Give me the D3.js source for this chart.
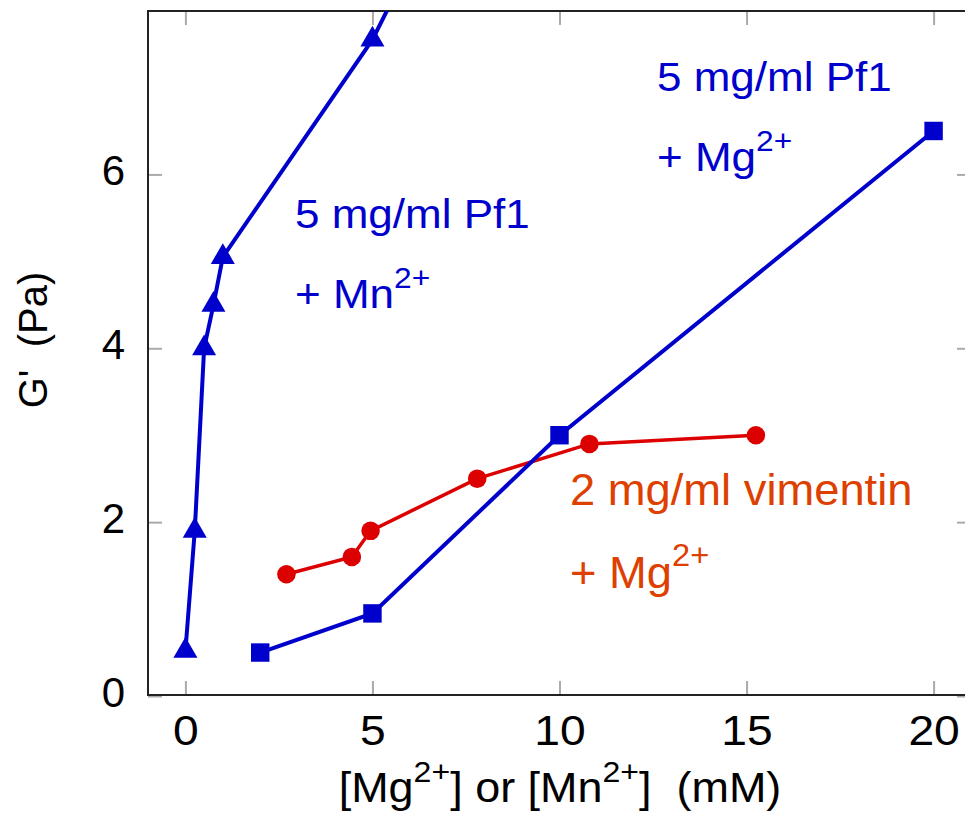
<!DOCTYPE html>
<html>
<head>
<meta charset="utf-8">
<script src="https://cdn.jsdelivr.net/npm/d3@7"></script>
<style>
  body { margin: 0; background: #fff; }
  svg { display: block; font-family: "Liberation Sans", Arial, sans-serif; }
  text { white-space: pre; }
</style>
</head>
<body>
<svg id="chart" width="965" height="821"></svg>
<script>
// data
var mnConc = [0, 0.25, 0.5, 0.75, 1, 5, 7.5];
var mnPf1 = [0.52, 1.9, 4.0, 4.5, 5.05, 7.55, 9.7];

var mgConc = [2, 5, 10, 20];
var mgPf1 = [0.5, 0.95, 3.0, 6.5];

var vimConc = [2.7, 4.45, 4.95, 7.8, 10.8, 15.25];
var vimG = [1.4, 1.6, 1.9, 2.5, 2.9, 3.0];

var xTicks = [0, 5, 10, 15, 20];
var yTicks = [0, 2, 4, 6];

var blue = "#0000cc", red = "#dd0000", orange = "#dd4000";

var svg = d3.select("#chart");
var plotL = 148, plotR = 971, plotT = 11, plotB = 695;

var x = d3.scaleLinear().domain([-1, 21]).range([plotL, plotR]);
var y = d3.scaleLinear().domain([0, 7.88]).range([plotB + 1, plotT]);

svg.append("clipPath").attr("id", "plotclip")
    .append("rect")
    .attr("x", plotL).attr("y", plotT)
    .attr("width", plotR - plotL).attr("height", plotB - plotT);

// ticks on all four sides, pointing in
function styleAxis(g) {
    g.select(".domain").remove();
    g.selectAll(".tick line").attr("stroke", "#aaa").attr("stroke-width", 2);
    g.selectAll(".tick text").attr("fill", "#000").attr("font-size", 42);
}

var xAxisG = svg.append("g")
    .attr("transform", "translate(0," + plotB + ")")
    .call(d3.axisBottom(x).tickValues(xTicks).tickSize(-14).tickPadding(20))
    .call(styleAxis);
// glyphs in the reference are a bit wider than Liberation Sans
xAxisG.selectAll(".tick text")
    .attr("transform", "scale(1.1,1)")
    .attr("x", 0);

svg.append("g")
    .attr("transform", "translate(0," + plotT + ")")
    .call(d3.axisTop(x).tickValues(xTicks).tickSize(-14).tickFormat(""))
    .call(styleAxis);
svg.append("g")
    .attr("transform", "translate(" + plotL + ",0)")
    .call(d3.axisLeft(y).tickValues(yTicks).tickSize(-14).tickPadding(23))
    .call(styleAxis)
    .selectAll(".tick text").attr("dy", "0.25em");
svg.append("g")
    .attr("transform", "translate(" + plotR + ",0)")
    .call(d3.axisRight(y).tickValues(yTicks).tickSize(-14).tickFormat(""))
    .call(styleAxis);

svg.append("rect")
    .attr("x", plotL).attr("y", plotT)
    .attr("width", plotR - plotL).attr("height", plotB - plotT)
    .attr("fill", "none").attr("stroke", "#222").attr("stroke-width", 2);

function drawSeries(xs, ys, color, width, shape, size) {
    var pts = xs.map(function (d, i) { return [d, ys[i]]; });
    var g = svg.append("g").attr("clip-path", "url(#plotclip)");
    var line = d3.line()
        .x(function (d) { return x(d[0]); })
        .y(function (d) { return y(d[1]); });
    g.append("path")
        .datum(pts)
        .attr("d", line)
        .attr("fill", "none")
        .attr("stroke", color)
        .attr("stroke-width", width);
    g.selectAll("path.mark")
        .data(pts)
        .enter().append("path")
        .attr("class", "mark")
        .attr("d", d3.symbol().type(shape).size(size))
        .attr("transform", function (d) { return "translate(" + x(d[0]) + "," + y(d[1]) + ")"; })
        .attr("fill", color);
}

drawSeries(vimConc, vimG, red, 3.5, d3.symbolCircle, 270);
drawSeries(mgConc, mgPf1, blue, 4, d3.symbolSquare, 340);
drawSeries(mnConc, mnPf1, blue, 4, d3.symbolTriangle, 250);

// annotations
function label(px, py, main, sup, color, size, stretch) {
    var t = svg.append("text")
        .attr("transform", "translate(" + px + "," + py + ") scale(" + stretch + ",1)")
        .attr("fill", color)
        .attr("font-size", size)
        .text(main);
    if (sup) {
        t.append("tspan").attr("font-size", size * 0.72).attr("dy", -size * 0.5).text(sup);
    }
}

label(295, 228, "5 mg/ml Pf1", null, blue, 40, 1.1);
label(295, 308, "+ Mn", "2+", blue, 40, 1.1);
label(657, 91, "5 mg/ml Pf1", null, blue, 40, 1.1);
label(657, 171, "+ Mg", "2+", blue, 40, 1.1);
label(570, 505, "2 mg/ml vimentin", null, orange, 44, 1.03);
label(570, 588, "+ Mg", "2+", orange, 44, 1.03);

// axis titles
var xl = svg.append("text")
    .attr("transform", "translate(560,802) scale(1.07,1)")
    .attr("text-anchor", "middle")
    .attr("font-size", 42)
    .attr("fill", "#000");
xl.append("tspan").text("[Mg");
xl.append("tspan").attr("font-size", 30).attr("dy", -20).text("2+");
xl.append("tspan").attr("dy", 20).text("] or [Mn");
xl.append("tspan").attr("font-size", 30).attr("dy", -20).text("2+");
xl.append("tspan").attr("dy", 20).text("]  (mM)");

svg.append("text")
    .attr("transform", "translate(47,340) rotate(-90)")
    .attr("text-anchor", "middle")
    .attr("font-size", 40)
    .attr("fill", "#000")
    .text("G'  (Pa)");
</script>
</body>
</html>
